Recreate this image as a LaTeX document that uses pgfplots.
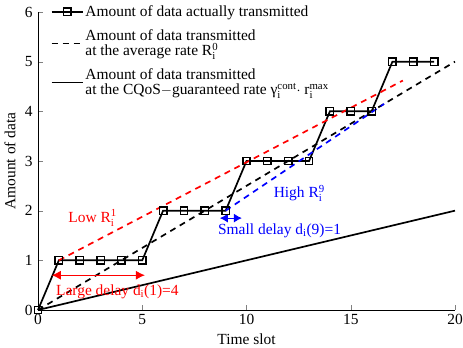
\documentclass[border=0pt]{standalone}
\usepackage{fontspec}
\setmainfont{Liberation Serif}
\usepackage{amsmath}
\usepackage{pgfplots}
\pgfplotsset{compat=1.18}
\usetikzlibrary{arrows.meta}
\newcommand{\subsup}[3]{#1$_{\text{#2}}^{\text{#3}}$}
\begin{document}
\fontsize{15.5}{17}\selectfont
\begin{tikzpicture}[x=1bp,y=1bp]
\begin{axis}[
  name=ax,
  scale only axis,
  width=417bp, height=298bp,
  xmin=0, xmax=20, ymin=0, ymax=6,
  xtick={0,5,10,15,20}, ytick={0,1,2,3,4,5,6},
  axis x line*=bottom, axis y line*=left,
  tick align=inside,
  major tick length=5bp,
  /pgf/number format/assume math mode=true,
  ticklabel style={font=\fontsize{15.5}{17}\selectfont},
  label style={font=\fontsize{15.5}{17}\selectfont},
  xticklabel style={yshift=1bp},
  xlabel={Time slot}, ylabel={Amount of data},
  xlabel style={yshift=1bp},
  ylabel style={yshift=-1bp},
  clip=false,
  legend style={at={(0.03,1.03)}, anchor=north west, draw=none, fill=none,
     font=\fontsize{15.5}{15}\selectfont, cells={align=left, anchor=west}, row sep=7bp,
     inner sep=0pt},
  legend image code/.code={\draw[mark repeat=2, mark phase=2, line width=1.7pt, #1] plot coordinates {(0bp,0bp) (15.5bp,0bp) (31bp,0bp)};},
]
\addplot[black, line width=1.7pt, mark=square, mark size=3.7bp, mark options={solid, line width=1.5pt}] coordinates {
 (0,0) (1,1) (2,1) (3,1) (4,1) (5,1) (6,2) (7,2) (8,2) (9,2) (10,3) (11,3) (12,3) (13,3) (14,4) (15,4) (16,4) (17,5) (18,5) (19,5)};
\addlegendentry{Amount of data actually transmitted}
\addplot[black, line width=1.7pt, dash pattern=on 6bp off 5bp] coordinates {(0,0) (20,5)};
\addlegendentry{Amount of data transmitted\\at the average rate \subsup{R}{i}{0}}
\addplot[black, line width=1.7pt] coordinates {(0,0) (20,2)};
\addlegendentry{Amount of data transmitted\\at the CQoS$-$guaranteed rate \subsup{γ}{i}{cont}$\cdot$ \subsup{r}{i}{max}}
\addplot[red, line width=1.7pt, dash pattern=on 6bp off 5bp, forget plot] coordinates {(1,1) (17.5,4.62)};
\addplot[blue, line width=1.7pt, dash pattern=on 6bp off 5bp, forget plot] coordinates {(9,2) (16.6,4.15)};
\addplot[red, line width=1.2pt, {Latex[length=9bp,width=9bp]}-{Latex[length=9bp,width=9bp]}, forget plot] coordinates {(0.66,0.70) (5.13,0.70)};
\addplot[blue, line width=1.2pt, {Latex[length=8bp,width=9bp]}-{Latex[length=8bp,width=9bp]}, forget plot] coordinates {(8.72,1.85) (9.78,1.85)};
\node[red, anchor=base west, inner sep=0pt] at (axis cs:1.45,1.77) {Low \subsup{R}{i}{1}};
\node[red, anchor=base west, inner sep=0pt] at (axis cs:0.86,0.30) {Large delay d$_{\text{i}}$(1)=4};
\node[blue, anchor=base west, inner sep=0pt] at (axis cs:11.3,2.27) {High \subsup{R}{i}{9}};
\node[blue, anchor=base west, inner sep=0pt] at (axis cs:8.63,1.52) {Small delay d$_{\text{i}}$(9)=1};
\end{axis}
\pgfresetboundingbox
\path ([shift={(-38bp,-38bp)}]ax.south west) rectangle ([shift={(8bp,12bp)}]ax.north east);
\end{tikzpicture}
\end{document}
